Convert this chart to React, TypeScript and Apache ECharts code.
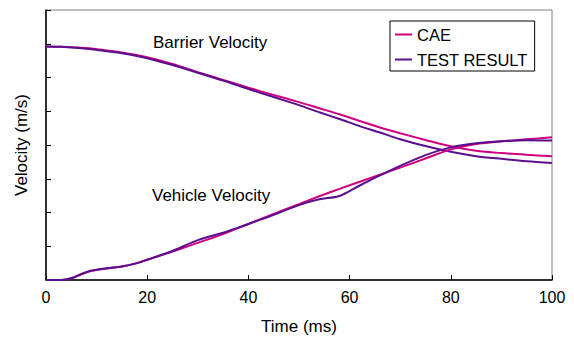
import React, { useEffect, useRef } from "react";
import * as echarts from "echarts";

const timeMs = [0, 3, 5, 7, 9, 12, 15, 18, 20, 25, 30, 35, 40, 45, 50, 54, 58, 62, 66, 70, 75, 80, 85, 90, 95, 100];

const barrierCAE = [6.92, 6.91, 6.9, 6.88, 6.86, 6.8, 6.74, 6.66, 6.6, 6.4, 6.16, 5.93, 5.7, 5.48, 5.27, 5.09, 4.91, 4.71, 4.52, 4.35, 4.15, 3.96, 3.83, 3.76, 3.71, 3.67];
const barrierTest = [6.92, 6.91, 6.89, 6.87, 6.84, 6.78, 6.72, 6.64, 6.57, 6.37, 6.14, 5.91, 5.66, 5.42, 5.18, 4.97, 4.77, 4.56, 4.37, 4.17, 3.97, 3.8, 3.67, 3.59, 3.52, 3.47];
const vehicleCAE = [0, 0, 0.05, 0.17, 0.27, 0.34, 0.4, 0.5, 0.6, 0.84, 1.1, 1.36, 1.66, 1.96, 2.25, 2.48, 2.7, 2.91, 3.12, 3.33, 3.6, 3.87, 4.03, 4.11, 4.17, 4.23];
const vehicleTest = [0, 0, 0.05, 0.18, 0.28, 0.35, 0.4, 0.5, 0.6, 0.86, 1.18, 1.4, 1.66, 1.93, 2.22, 2.39, 2.49, 2.8, 3.1, 3.38, 3.7, 3.93, 4.05, 4.11, 4.14, 4.13];

const xTicks = [0, 20, 40, 60, 80, 100];

const CAE_COLOR = "#d1007c";
const TEST_COLOR = "#5a0f8e";
const FONT = "Liberation Sans";
const LINE_ICON = "path://M0,0 L17,0 L17,2 L0,2 Z";

const pairs = (ys: number[]) => timeMs.map((t, i) => [t, ys[i]]);

export default function App() {
  const ref = useRef<HTMLDivElement>(null);
  useEffect(() => {
    if (!ref.current) return;
    const chart = echarts.init(ref.current, null, { renderer: "svg" });
    const lineSeries = (name: string, data: number[], color: string) => ({
      type: "line",
      name,
      data: pairs(data),
      smooth: 0.3,
      symbol: "none",
      showSymbol: false,
      lineStyle: { color, width: 2 },
      itemStyle: { color },
    });
    chart.setOption({
      animation: false,
      grid: {
        left: 46,
        right: 22,
        top: 10,
        bottom: 59,
        outerBoundsMode: "none",
        containLabel: false,
        show: true,
        borderColor: "#808080",
        borderWidth: 1,
        backgroundColor: "transparent",
      },
      legend: {
        orient: "vertical",
        left: 390,
        top: 21,
        data: [
          { name: "CAE", icon: LINE_ICON, itemStyle: { color: CAE_COLOR } },
          { name: "TEST RESULT", icon: LINE_ICON, itemStyle: { color: TEST_COLOR } },
        ],
        itemWidth: 17,
        itemHeight: 16,
        itemGap: 8,
        padding: [5, 7, 3, 5],
        borderColor: "#000",
        borderWidth: 1,
        backgroundColor: "#fff",
        textStyle: { fontFamily: FONT, fontSize: 16.5, color: "#000" },
      },
      xAxis: {
        type: "value",
        min: 0,
        max: 100,
        interval: 20,
        name: "Time (ms)",
        nameLocation: "middle",
        nameGap: 38,
        nameTextStyle: { fontFamily: FONT, fontSize: 17, color: "#000" },
        axisLine: { show: true, lineStyle: { color: "#000", width: 1.5 } },
        axisTick: { show: true, inside: true, length: 5, lineStyle: { color: "#000" } },
        axisLabel: {
          fontFamily: FONT,
          fontSize: 16,
          color: "#000",
          margin: 9,
          formatter: (v: number) => (xTicks.includes(v) ? String(v) : ""),
        },
        splitLine: { show: false },
      },
      yAxis: {
        type: "value",
        min: 0,
        max: 8,
        interval: 1,
        name: "Velocity (m/s)",
        nameLocation: "middle",
        nameGap: 16,
        nameTextStyle: { fontFamily: FONT, fontSize: 17, color: "#000" },
        axisLine: { show: true, lineStyle: { color: "#000", width: 1.5 } },
        axisTick: { show: true, inside: true, length: 5, lineStyle: { color: "#000" } },
        axisLabel: { show: false },
        splitLine: { show: false },
      },
      graphic: [
        {
          type: "text",
          left: 153,
          top: 34,
          style: { text: "Barrier Velocity", fontFamily: FONT, fontSize: 17, fill: "#000" },
        },
        {
          type: "text",
          left: 152,
          top: 187,
          style: { text: "Vehicle Velocity", fontFamily: FONT, fontSize: 17, fill: "#000" },
        },
      ],
      series: [
        lineSeries("CAE", barrierCAE, CAE_COLOR),
        lineSeries("TEST RESULT", barrierTest, TEST_COLOR),
        lineSeries("CAE", vehicleCAE, CAE_COLOR),
        lineSeries("TEST RESULT", vehicleTest, TEST_COLOR),
      ],
    });
    return () => chart.dispose();
  }, []);
  return <div ref={ref} style={{ width: 574, height: 339, position: "absolute", left: 0, top: 0 }} />;
}
